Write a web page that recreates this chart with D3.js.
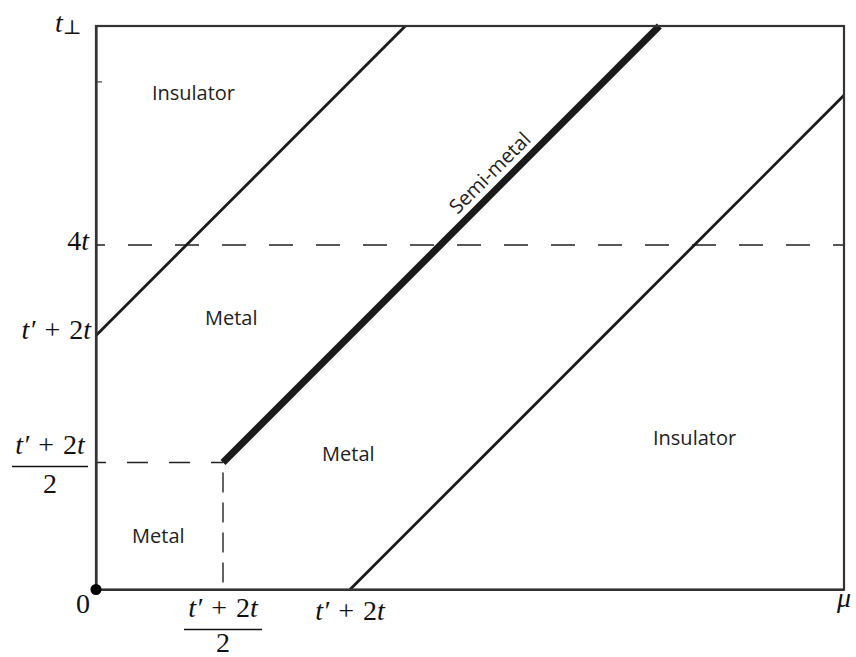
<!DOCTYPE html>
<html><head><meta charset="utf-8">
<script src="https://cdn.jsdelivr.net/npm/d3@7/dist/d3.min.js"></script>
<style>body{margin:0;background:#fff}</style>
</head><body>
<svg id="c" width="856" height="657"></svg>
<script>
// Units: t' + 2t = 1
const xDomain = [0, 2.945];
const yDomain = [0, 2.218];
const fourT = 1.356;
const halfVal = 0.5;
const fullVal = 1;
const yMinorTicks = [2];
// phase boundaries: y = x + offset, starting at xStart
const boundaryOffsets = [1, 0, -1];
const boundaryStarts = [0, 0.5, 1];
const boundaryWidths = ["thin", "thick", "thin"];
const regionNames = ["Insulator", "Metal", "Metal", "Metal", "Insulator"];
const regionX = [0.220, 0.429, 0.890, 0.142, 2.193];
const regionY = [1.927, 1.041, 0.504, 0.183, 0.567];
const semiMetalLabel = "Semi-metal";
const semiMetalPos = 1.595;

const svg = d3.select("#c");
const x = d3.scaleLinear().domain(xDomain).range([96, 844]);
const y = d3.scaleLinear().domain(yDomain).range([589.5, 26]);
const serif = "'Liberation Serif','DejaVu Serif',serif";
const sans = "'Open Sans','Noto Sans',sans-serif";
const FS = 28;

// dashed guides
svg.append("line").attr("x1", x(0)).attr("x2", x(xDomain[1])).attr("y1", y(fourT)).attr("y2", y(fourT))
  .attr("stroke", "#222").attr("stroke-width", 1.4).attr("stroke-dasharray", "24,23").attr("stroke-dashoffset", 15);
svg.append("line").attr("x1", x(0)).attr("x2", x(halfVal)).attr("y1", y(halfVal)).attr("y2", y(halfVal))
  .attr("stroke", "#222").attr("stroke-width", 1.4).attr("stroke-dasharray", "21,21").attr("stroke-dashoffset", 11);
svg.append("line").attr("x1", x(halfVal)).attr("x2", x(halfVal)).attr("y1", y(halfVal)).attr("y2", y(0))
  .attr("stroke", "#222").attr("stroke-width", 1.4).attr("stroke-dasharray", "20,10").attr("stroke-dashoffset", 20);

// boundaries
boundaryOffsets.forEach((c, i) => {
  const x0 = boundaryStarts[i];
  const x1 = Math.min(xDomain[1], yDomain[1] - c);
  svg.append("line")
    .attr("x1", x(x0)).attr("y1", y(x0 + c))
    .attr("x2", x(x1)).attr("y2", y(x1 + c))
    .attr("stroke", "#1a1a1a")
    .attr("stroke-width", boundaryWidths[i] === "thick" ? 7 : 2.8);
});

// axes frame
svg.append("g").attr("transform", `translate(0,${y(0)})`)
  .call(d3.axisBottom(x).tickValues([]).tickSizeOuter(0));
svg.append("g").attr("transform", `translate(${x(0)},0)`)
  .call(d3.axisLeft(y).tickValues(yMinorTicks).tickSize(-6).tickFormat("").tickSizeOuter(0));
svg.append("rect").attr("x", x(0)).attr("y", y(yDomain[1])).attr("width", x(xDomain[1]) - x(0))
  .attr("height", y(0) - y(yDomain[1])).attr("fill", "none").attr("stroke", "#333").attr("stroke-width", 2.2);
svg.selectAll(".domain").attr("stroke", "#333").attr("stroke-width", 2.2);
svg.selectAll(".tick line").attr("stroke", "#444").attr("stroke-width", 1.2);

// origin dot
svg.append("circle").attr("cx", x(0)).attr("cy", y(0)).attr("r", 5.5).attr("fill", "#000");

// region labels
regionNames.forEach((n, i) => {
  svg.append("text").attr("x", x(regionX[i])).attr("y", y(regionY[i])).text(n)
    .attr("font-family", sans).attr("font-size", 20).attr("fill", "#222");
});
// semi-metal label along thick line
{
  const d = 9 / Math.SQRT2;
  const px = x(semiMetalPos) - d, py = y(semiMetalPos) - d;
  svg.append("text").attr("transform", `translate(${px},${py}) rotate(-45)`)
    .attr("text-anchor", "middle").attr("font-family", sans).attr("font-size", 20).attr("fill", "#222").text(semiMetalLabel);
}

// math labels
function mathText(px, py, anchor, parts) {
  const t = svg.append("text").attr("x", px).attr("y", py).attr("text-anchor", anchor)
    .attr("font-family", serif).attr("font-size", FS).attr("fill", "#111");
  parts.forEach(p => {
    const s = t.append("tspan").text(p.s);
    if (p.i) s.attr("font-style", "italic");
    if (p.fs) s.attr("font-size", p.fs);
    if (p.dx) s.attr("dx", p.dx);
    if (p.dy) s.attr("dy", p.dy);
  });
  return t;
}
const tpp = [{s: "t′", i: 1}, {s: "+", dx: 9}, {s: "2", dx: 9}, {s: "t", i: 1}];
// y labels
mathText(55, 32, "start", [{s: "t", i: 1}, {s: "⊥", fs: 20, dy: 2}]);
mathText(89, y(fourT) + 5, "end", [{s: "4"}, {s: "t", i: 1}]);
mathText(91, y(fullVal) + 4, "end", tpp);
// fraction on y axis
mathText(50, y(halfVal) - 8, "middle", tpp);
svg.append("line").attr("x1", 12).attr("x2", 88).attr("y1", y(halfVal) + 4).attr("y2", y(halfVal) + 4).attr("stroke", "#111").attr("stroke-width", 1.4);
mathText(50, y(halfVal) + 31, "middle", [{s: "2"}]);
// x labels
mathText(x(0) - 13, y(0) + 23, "middle", [{s: "0"}]);
mathText(x(halfVal), y(0) + 27, "middle", tpp);
svg.append("line").attr("x1", x(halfVal) - 39).attr("x2", x(halfVal) + 39).attr("y1", y(0) + 40).attr("y2", y(0) + 40).attr("stroke", "#111").attr("stroke-width", 1.4);
mathText(x(halfVal), y(0) + 62, "middle", [{s: "2"}]);
mathText(x(fullVal), y(0) + 30, "middle", tpp);
mathText(x(xDomain[1]), y(0) + 17, "middle", [{s: "μ", i: 1}]);
</script>
</body></html>
